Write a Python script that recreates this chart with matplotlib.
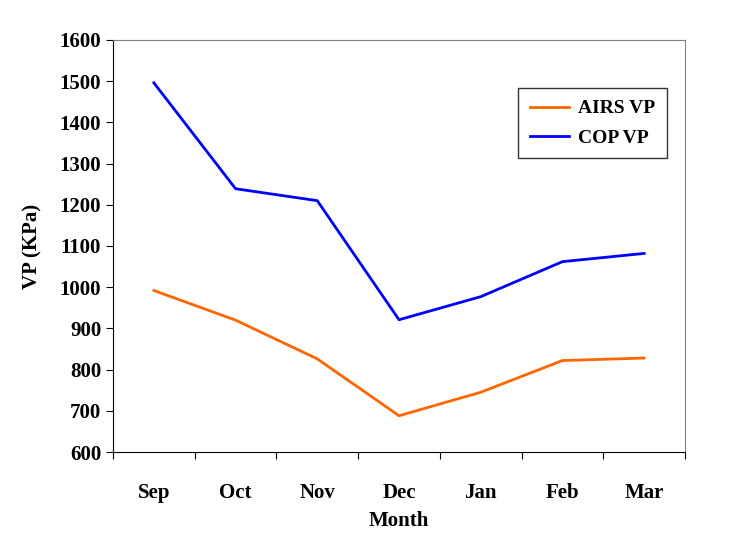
import matplotlib
matplotlib.use("Agg")
import matplotlib.pyplot as plt

months = ["Sep", "Oct", "Nov", "Dec", "Jan", "Feb", "Mar"]
airs_vp = [992, 920, 826, 688, 745, 822, 828]
cop_vp = [1496, 1239, 1210, 921, 977, 1062, 1082]

plt.rcParams["font.family"] = "Liberation Serif"
plt.rcParams["font.weight"] = "bold"
fig = plt.figure(figsize=(7.4, 5.49), dpi=100)
ax = fig.add_axes([113/740, 1-452/549, (685-113)/740, (452-40)/549])
x = [i + 0.5 for i in range(len(months))]
ax.plot(x, airs_vp, color="#ff6600", lw=2, label="AIRS VP")
ax.plot(x, cop_vp, color="#0000ff", lw=2, label="COP VP")
ax.set_xlim(0, len(months))
ax.set_ylim(600, 1600)
ax.set_yticks(range(600, 1601, 100))
ax.set_xticks(range(len(months) + 1))
ax.set_xticklabels([])
ax.set_xticks(x, minor=True)
ax.set_xticklabels(months, minor=True)
ax.tick_params(axis="x", which="minor", length=0, pad=22, labelsize=15)
ax.tick_params(axis="x", which="major", length=5, direction="out")
ax.tick_params(axis="y", labelsize=15, length=5)
for s in ax.spines.values():
    s.set_color("#808080")
ax.spines["left"].set_color("black")
ax.spines["bottom"].set_color("black")
ax.set_xlabel("Month", fontsize=15, fontweight="bold", labelpad=6)
ax.set_ylabel("VP (KPa)", fontsize=15, fontweight="bold", labelpad=12)
leg = ax.legend(loc="upper right", bbox_to_anchor=(0.969, 0.883), fontsize=14,
                frameon=True, fancybox=False, edgecolor="black", handlelength=2.0,
                borderaxespad=0, borderpad=0.6, labelspacing=0.6, handletextpad=0.5)
fig.savefig("out.png", dpi=100)
